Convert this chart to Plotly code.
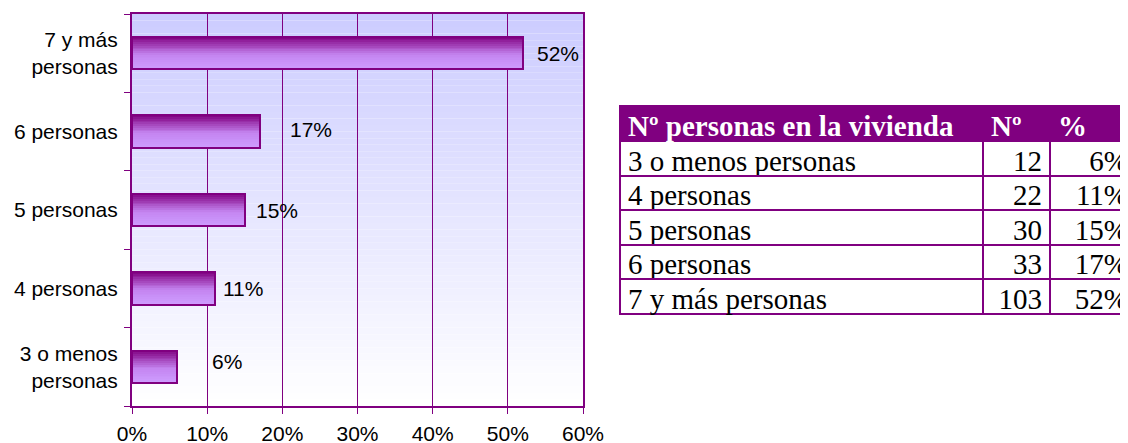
import plotly.graph_objects as go

# ---------------- data ----------------
categories = ["3 o menos<br>personas", "4 personas", "5 personas", "6 personas", "7 y más<br>personas"]
percent_values = [6, 11, 15, 17, 52]
percent_labels = ["6%", "11%", "15%", "17%", "52%"]
x_tick_values = [0, 10, 20, 30, 40, 50, 60]
x_tick_labels = ["0%", "10%", "20%", "30%", "40%", "50%", "60%"]

table_header = ["Nº personas en la vivienda", "Nº", "%"]
table_rows = ["3 o menos personas", "4 personas", "5 personas", "6 personas", "7 y más personas"]
table_counts = [12, 22, 30, 33, 103]
table_percents = ["6%", "11%", "15%", "17%", "52%"]

# ---------------- styles ----------------
PURPLE = "#800080"
W = 0.415
N_STRIPS = 18
label_xshift = [33, 6, 9, 28, 12]
label_yshift = [5, 0, 0, 2, 0]
SANS = "Liberation Sans, Arial, sans-serif"
SERIF = "Liberation Serif, Times New Roman, serif"
FW, FH = 1128.0, 443.0
OFF = 8  # page body margin


def px_x(v):
    return (v - OFF) / FW


def px_y(v):
    return 1 - (v - OFF) / FH


def lerp(c1, c2, t):
    return tuple(int(round(a + (b - a) * t)) for a, b in zip(c1, c2))


def bar_color(t):
    stops = [(0.0, (128, 0, 128)), (0.55, (196, 132, 240)), (1.0, (206, 158, 255))]
    for (t0, c0), (t1, c1) in zip(stops[:-1], stops[1:]):
        if t <= t1:
            c = lerp(c0, c1, (t - t0) / (t1 - t0))
            return "rgb(%d,%d,%d)" % c
    return "rgb(%d,%d,%d)" % stops[-1][1]


fig = go.Figure()

# gradient-filled bars (stacked thin strips sharing the same data)
for i in range(N_STRIPS):
    fig.add_trace(go.Bar(
        x=percent_values, y=categories, orientation="h",
        width=W / N_STRIPS + 0.002, offset=W / 2 - (i + 1) * W / N_STRIPS,
        marker=dict(color=bar_color((i + 0.5) / N_STRIPS), line=dict(width=0)),
        showlegend=False, hoverinfo="skip",
    ))
# outline
fig.add_trace(go.Bar(
    x=percent_values, y=categories, orientation="h",
    width=W, offset=-W / 2,
    marker=dict(color="rgba(0,0,0,0)", line=dict(color=PURPLE, width=2)),
    showlegend=False,
))

# value labels
for v, c, t, dx, dy in zip(percent_values, categories, percent_labels, label_xshift, label_yshift):
    fig.add_annotation(x=v, y=c, text=t, xanchor="left", yanchor="middle", showarrow=False,
                       xshift=dx, yshift=dy, font=dict(family=SANS, size=21, color="#000"))

# background gradient of plot area
N_BG = 60
shapes = []
for i in range(N_BG):
    t = i / (N_BG - 1)
    c = lerp((204, 204, 255), (255, 255, 255), t)
    shapes.append(dict(type="rect", xref="x domain", yref="y domain",
                       x0=0, x1=1, y0=1 - (i + 1) / N_BG, y1=1 - i / N_BG,
                       fillcolor="rgb(%d,%d,%d)" % c, line=dict(width=0), layer="below"))

# table
fig.add_trace(go.Table(
    domain=dict(x=[px_x(620), 1.0], y=[px_y(318), px_y(106)]),
    columnwidth=[363, 67, 86],
    header=dict(values=table_header,
                fill_color=PURPLE, line_color=PURPLE, line_width=2,
                font=dict(family=SERIF, size=29, color="white", weight="bold"),
                align="left", height=35),
    cells=dict(values=[table_rows, table_counts, table_percents],
               fill_color="white", line_color=PURPLE, line_width=2,
               font=dict(family=SERIF, size=29, color="black"),
               align=["left", "right", "right"], height=34.5),
))

fig.update_layout(
    width=1128, height=443,
    margin=dict(l=0, r=0, t=0, b=0),
    paper_bgcolor="white", plot_bgcolor="white",
    barmode="overlay", bargap=0,
    shapes=shapes,
    xaxis=dict(domain=[px_x(132), px_x(583)], range=[0, 60],
               tickvals=x_tick_values, ticktext=x_tick_labels,
               showgrid=True, gridcolor=PURPLE, gridwidth=1,
               showline=True, linecolor=PURPLE, linewidth=2, mirror=True,
               ticks="outside", ticklen=6, tickcolor=PURPLE, tickwidth=1,
               ticklabelstandoff=2, zeroline=False,
               tickfont=dict(family=SANS, size=21, color="#000"), automargin=False),
    yaxis=dict(domain=[px_y(406), px_y(14)],
               categoryorder="array", categoryarray=categories,
               showgrid=False, showline=True, linecolor=PURPLE, linewidth=2, mirror=True,
               ticks="outside", ticklen=6, tickcolor=PURPLE, tickwidth=1, tickson="boundaries",
               ticklabelstandoff=8,
               tickfont=dict(family=SANS, size=21, color="#000"), automargin=False),
)

fig.write_html("out.html")
